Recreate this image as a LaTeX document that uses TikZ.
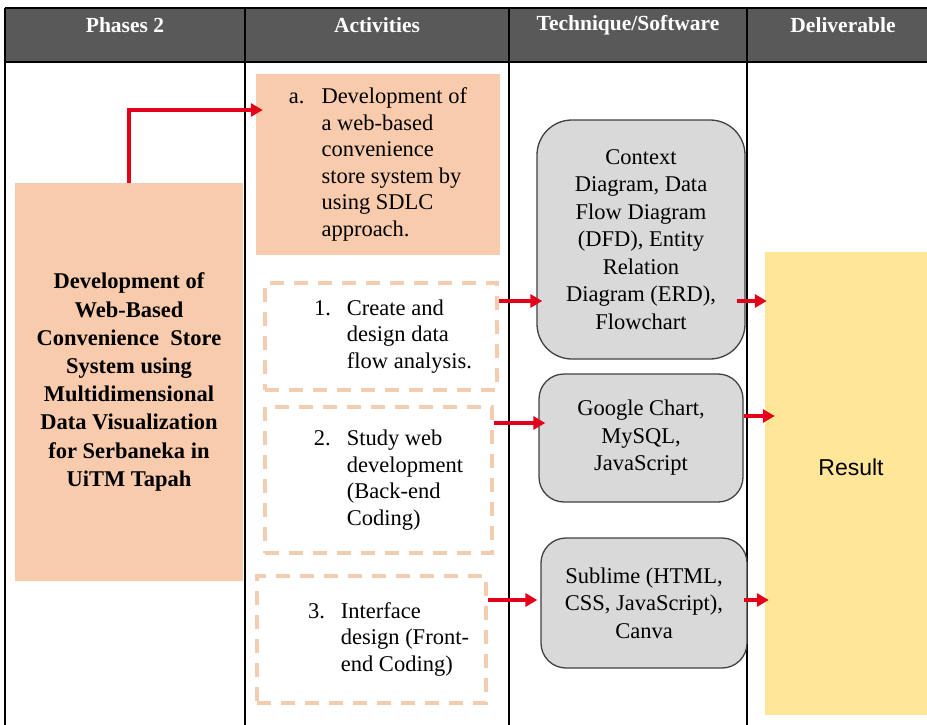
\documentclass[tikz,border=0pt]{standalone}
\usepackage{fontspec}
\setmainfont{LiberationSerif}[Extension=.ttf,UprightFont=*-Regular,BoldFont=*-Bold,ItalicFont=*-Italic,BoldItalicFont=*-BoldItalic]
\newfontfamily\arialf{LiberationSans}[Extension=.ttf,UprightFont=*-Regular,BoldFont=*-Bold]
\usetikzlibrary{arrows.meta}
\definecolor{hdr}{HTML}{595959}
\definecolor{peach}{HTML}{F8CBAD}
\definecolor{dashc}{HTML}{F4CDB0}
\definecolor{techg}{HTML}{D9D9D9}
\definecolor{resy}{HTML}{FFE699}
\definecolor{arrred}{HTML}{E3001B}
\begin{document}
\begin{tikzpicture}[x=1pt,y=-1pt,
  hdrtext/.style={text=white,font=\fontsize{21.5}{24}\selectfont\bfseries},
  gridline/.style={line width=1.3pt,draw=black},
  peachbox/.style={fill=peach,draw=none,inner sep=0pt},
  dashbox/.style={draw=dashc,line width=3.5pt,dash pattern=on 14pt off 10pt,fill=white,inner sep=0pt},
  techbox/.style={draw=black!75,line width=1.3pt,fill=techg,inner sep=0pt,align=center,font=\fontsize{22.5}{27.5}\selectfont},
  arr/.style={draw=arrred,line width=3.5pt,-{Triangle[length=12pt,width=13pt]}},
  body/.style={font=\fontsize{22.5}{26.5}\selectfont},
]
\useasboundingbox (0,0) rectangle (927,725);
% table
\fill[hdr] (5,8) rectangle (927,62);
\draw[gridline] (5,8) -- (927,8);
\draw[gridline] (5,62) -- (927,62);
\foreach \x in {5,245,509,747} \draw[gridline] (\x,8) -- (\x,725);
\node[hdrtext] (h1) at (125,25) {Phases 2};
\node[hdrtext] (h2) at (377,25) {Activities};
\node[hdrtext] (h3) at (628,25) {Technique/Software};
\node[hdrtext] (h4) at (843,25) {Deliverable};
% phase box
\node[peachbox,minimum width=228pt,minimum height=398pt,align=center,
  font=\fontsize{22.5}{28.2}\selectfont\bfseries] (lb) at (129,382)
  {Development of\\Web-Based\\Convenience~ Store\\System using\\Multidimensional\\Data Visualization\\for Serbaneka in\\UiTM Tapah};
% activity boxes
\node[peachbox,body,minimum width=244pt,minimum height=181pt] (a) at (378,164.5)
  {a.\hspace{17pt}\begin{tabular}[t]{@{}l@{}}Development of\\a web-based\\convenience\\store system by\\using SDLC\\approach.\end{tabular}};
\node[dashbox,body,minimum width=232pt,minimum height=107pt] (b1) at (381,336.5)
  {\hspace{24pt}1.\hspace{16pt}\begin{tabular}[t]{@{}l@{}}Create and\\design data\\flow analysis.\end{tabular}};
\node[dashbox,body,minimum width=227pt,minimum height=146pt] (b2) at (378.5,480)
  {\hspace{20pt}2.\hspace{16pt}\begin{tabular}[t]{@{}l@{}}Study web\\development\\(Back-end\\Coding)\end{tabular}};
\node[dashbox,body,minimum width=229pt,minimum height=127pt] (b3) at (371.5,639.5)
  {\hspace{34pt}3.\hspace{16pt}\begin{tabular}[t]{@{}l@{}}Interface\\design (Front-\\end Coding)\end{tabular}};
% technique boxes
\node[techbox,rounded corners=35pt,minimum width=208pt,minimum height=239pt] (ctx) at (641,239.5)
  {Context\\Diagram, Data\\Flow Diagram\\(DFD), Entity\\Relation\\Diagram (ERD),\\Flowchart};
\node[techbox,rounded corners=25pt,minimum width=204pt,minimum height=128pt] (gg) at (641,438)
  {Google Chart,\\MySQL,\\JavaScript};
\node[techbox,rounded corners=25pt,minimum width=206pt,minimum height=130pt] (sub) at (644,603)
  {Sublime (HTML,\\CSS, JavaScript),\\Canva};
% deliverable
\node[fill=resy,draw=none,inner sep=0pt,minimum width=162pt,minimum height=463pt,
  label={[yshift=16pt,xshift=5pt,font=\arialf\fontsize{23}{26}\selectfont]center:Result}] (res) at (846,483.5) {};
% arrows
\coordinate (r0) at (131,110);
\coordinate (r1) at (0,301);
\coordinate (r2) at (0,423);
\coordinate (r2b) at (0,416);
\coordinate (r3) at (0,600);
\draw[arr] (lb.north) |- ([xshift=7pt]a.west |- r0);
\draw[arr] (b1.east |- r1) -- ([xshift=6pt]ctx.west |- r1);
\draw[arr] ([xshift=-9pt]ctx.east |- r1) -- ([xshift=2pt]res.west |- r1);
\draw[arr] (b2.east |- r2) -- ([xshift=7pt]gg.west |- r2);
\draw[arr] (gg.east |- r2b) -- ([xshift=10pt]res.west |- r2b);
\draw[arr] (b3.east |- r3) -- ([xshift=-3pt]sub.west |- r3);
\draw[arr] ([xshift=-4pt]sub.east |- r3) -- ([xshift=4pt]res.west |- r3);
\end{tikzpicture}
\end{document}
